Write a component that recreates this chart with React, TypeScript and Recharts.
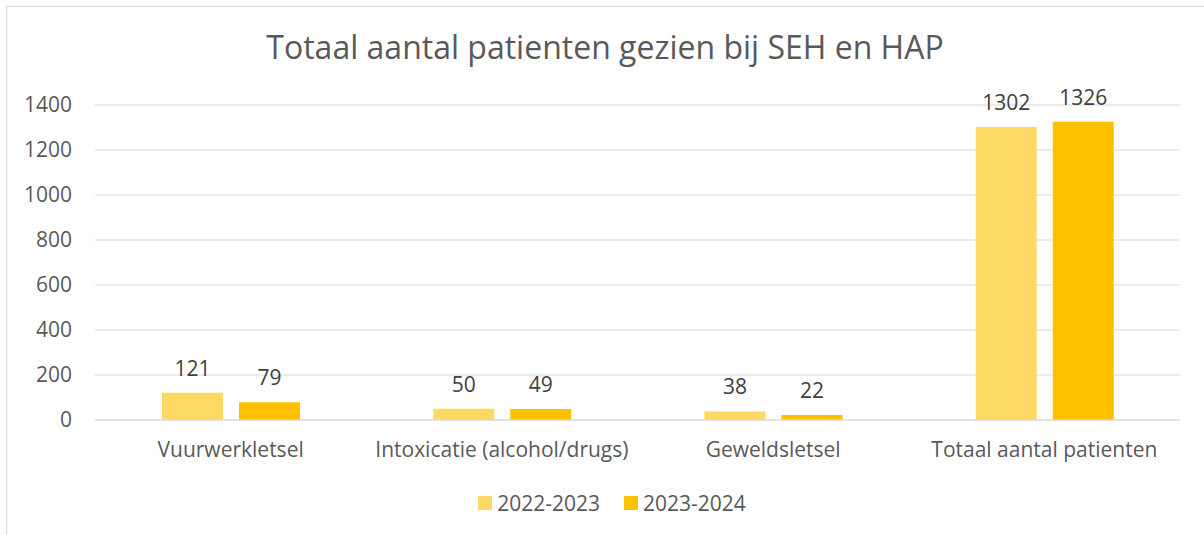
import { BarChart, Bar, XAxis, YAxis, CartesianGrid, Legend, LabelList } from 'recharts';

const categories = ['Vuurwerkletsel', 'Intoxicatie (alcohol/drugs)', 'Geweldsletsel', 'Totaal aantal patienten'];
const season2223 = [121, 50, 38, 1302];
const season2324 = [79, 49, 22, 1326];
const yTicks = [0, 200, 400, 600, 800, 1000, 1200, 1400];

const series = [
  { key: 's1', name: '2022-2023', color: '#FFD966' },
  { key: 's2', name: '2023-2024', color: '#FFC000' },
];

const data = categories.map((name, i) => ({ name, s1: season2223[i], s2: season2324[i] }));

const font = '"Open Sans", sans-serif';
const textColor = '#595959';

const LegendContent = () => (
  <div style={{ height: 30, display: 'flex', justifyContent: 'center', alignItems: 'center', fontFamily: font, fontSize: 21, color: textColor, paddingLeft: 44 }}>
    {series.map((s) => (
      <div key={s.key} style={{ display: 'flex', alignItems: 'center', margin: '0 12px' }}>
        <span style={{ width: 14, height: 14, background: s.color, display: 'inline-block', marginRight: 5 }} />
        <span>{s.name}</span>
      </div>
    ))}
  </div>
);

const App = () => {
  return (
    <div style={{ position: 'absolute', left: 0, top: 0, width: 1204, height: 535, background: '#fff', overflow: 'hidden' }}>
      <div style={{ position: 'absolute', left: 6, top: 6, width: 1300, height: 600, borderLeft: '1px solid #d9d9d9', borderTop: '1px solid #d9d9d9' }} />
      <div style={{ position: 'absolute', left: 0, top: 25, width: 1210, textAlign: 'center', fontFamily: font, fontSize: 32, color: textColor }}>
        Totaal aantal patienten gezien bij SEH en HAP
      </div>
      <BarChart
        width={1204}
        height={535}
        data={data}
        barGap={16}
        margin={{ top: 105, right: 24, bottom: 17, left: 0 }}
      >
        <CartesianGrid vertical={false} stroke="#d9d9d9" />
        <XAxis
          dataKey="name"
          height={68}
          tickSize={0}
          tickMargin={22}
          axisLine={{ stroke: '#d9d9d9' }}
          tick={{ fontFamily: font, fontSize: 21, fill: textColor }}
        />
        <YAxis
          width={95}
          domain={[0, 1400]}
          ticks={yTicks}
          axisLine={false}
          tickLine={false}
          tickSize={0}
          tickMargin={23}
          tick={{ fontFamily: font, fontSize: 21, fill: textColor }}
        />
        <Legend verticalAlign="bottom" content={<LegendContent />} />
        {series.map((s) => (
          <Bar key={s.key} dataKey={s.key} name={s.name} fill={s.color} barSize={61} isAnimationActive={false}>
            <LabelList dataKey={s.key} position="top" offset={17} style={{ fontFamily: font, fontSize: 21, fill: '#404040' }} />
          </Bar>
        ))}
      </BarChart>
    </div>
  );
};

export default App;
